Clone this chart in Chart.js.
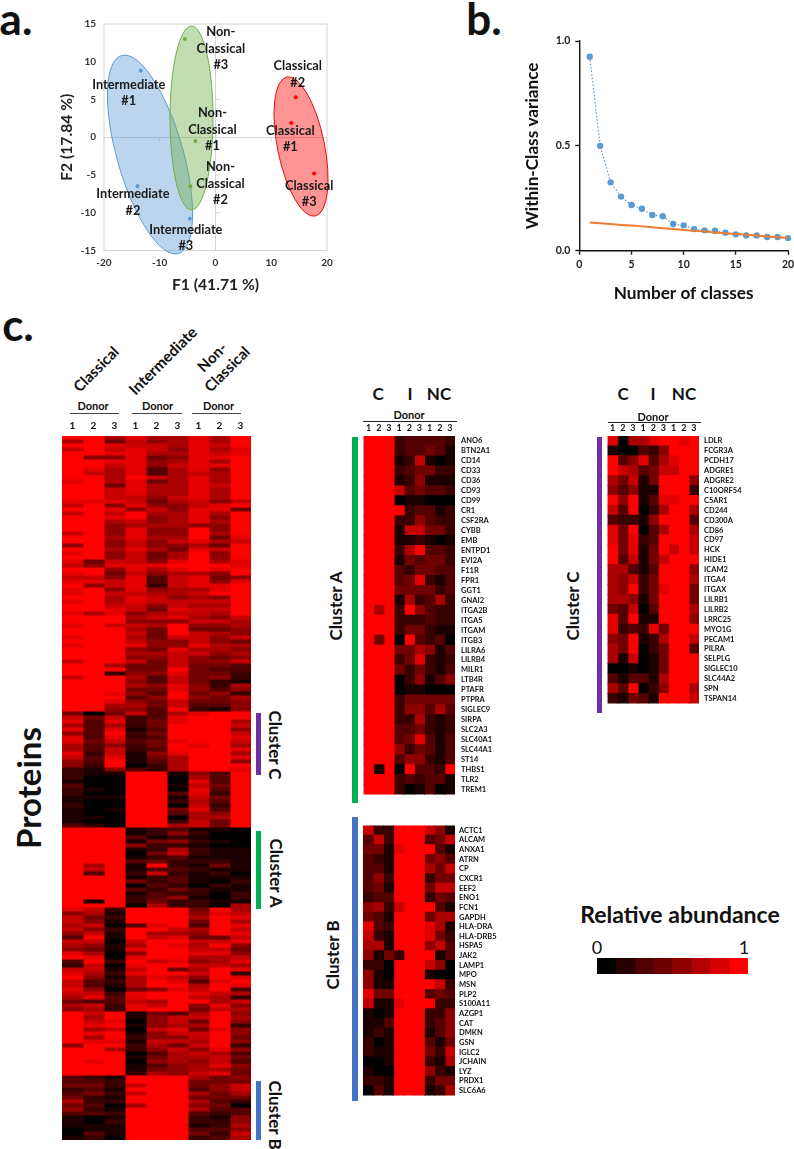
<!DOCTYPE html>
<html>
<head>
<meta charset="utf-8">
<title>Monocyte proteomics</title>
<script src="https://cdn.jsdelivr.net/npm/chart.js@4/dist/chart.umd.min.js"></script>
<style>
	html, body { margin: 0; padding: 0; background: #fff; }
	#page { position: relative; width: 794px; height: 1149px; overflow: hidden; font-family: Lato, sans-serif; color: #111; }
	canvas { position: absolute; }
	.txt { position: absolute; white-space: nowrap; font-weight: 700; line-height: 1; }
	.bar { position: absolute; }
</style>
</head>
<body>
<div id="page">
	<canvas id="pca" width="290" height="290" style="left:50px;top:10px"></canvas>
	<canvas id="elbow" width="300" height="300" style="left:520px;top:10px"></canvas>
	<canvas id="heatMain" width="189" height="722" style="left:62px;top:418px"></canvas>
	<canvas id="heatA" width="152" height="383" style="left:363px;top:422px"></canvas>
	<canvas id="heatB" width="152" height="287" style="left:363px;top:817px"></canvas>
	<canvas id="heatC" width="152" height="291" style="left:607px;top:422px"></canvas>
	<canvas id="scaleBar" width="151" height="16" style="left:597px;top:958px"></canvas>
</div>
<script>
// --- Panel a: PCA ---
const pcaIntermediateX = [-13.4, -14, -4.6];
const pcaIntermediateY = [8.8, -6.5, -10.8];
const pcaNonClassicalX = [-3.6, -4.5, -5.5];
const pcaNonClassicalY = [-0.5, -6.5, 13];
const pcaClassicalX = [13.6, 14.4, 17.7];
const pcaClassicalY = [1.9, 5.3, -4.8];
const pcaIntermediateLabels = [["Intermediate", "#1"], ["Intermediate", "#2"], ["Intermediate", "#3"]];
const pcaNonClassicalLabels = [["Non-", "Classical", "#1"], ["Non-", "Classical", "#2"], ["Non-", "Classical", "#3"]];
const pcaClassicalLabels = [["Classical", "#1"], ["Classical", "#2"], ["Classical", "#3"]];

// --- Panel b: within-class variance ---
const classCounts = [1, 2, 3, 4, 5, 6, 7, 8, 9, 10, 11, 12, 13, 14, 15, 16, 17, 18, 19, 20];
const withinVariance = [0.925, 0.5, 0.326, 0.258, 0.218, 0.2, 0.17, 0.164, 0.127, 0.121, 0.103, 0.097, 0.095, 0.086, 0.078, 0.073, 0.073, 0.065, 0.065, 0.06];
const randomVariance = [0.135, 0.131, 0.127, 0.123, 0.12, 0.116, 0.112, 0.107, 0.103, 0.099, 0.095, 0.091, 0.087, 0.083, 0.08, 0.076, 0.072, 0.068, 0.064, 0.06];

// --- Panel c: heatmaps, one digit per donor (0 = black, 9 = full red) ---
const donorLabels = ["1", "2", "3", "1", "2", "3", "1", "2", "3"];
const mainRowsTop = [
	"996866869", "694756869", "998776879", "797875868", "998866878", "955845889", "998856869", "997857889",
	"986836859", "976836769", "996976869", "896846869", "994866879", "997866869", "997866869", "997757869",
	"888746757", "795855789", "998575884", "797966869", "998956859", "996756869", "995666559", "995855959",
	"795855969", "996866948", "995757867", "595755649", "996864879", "895746959", "995746959", "847758968",
	"758889998", "995868989", "894756659", "775837845", "887837858", "957827889", "895856689", "897766799",
	"996875659", "896877779", "997757669", "998748779", "868567769", "999678657", "999555776", "897769556",
	"999649445", "999749765", "899647757", "999755754", "899855866", "999548665", "999667756", "999557545",
	"799747557", "996447443", "999449433", "992558442", "799637452", "999537421", "999658526", "999448535",
	"998539452", "999359546", "998547445", "996647335", "995539215",
];
const mainRowsClusterC = [
	"404736899", "747238999", "838248996", "636249997", "838139995", "539249997", "838239998", "847348997",
	"635249896", "637239998", "827158996", "738146998", "539136995", "529026999", "215326998",
];
const mainRowsIntermediate = [
	"211991539", "200990639", "100990839", "300991749", "210990839", "200993829", "111991749", "100992639",
	"200990729", "101994839", "100993659", "110990669", "100992749", "320996749",
];
const mainRowsClusterA = [
	"999123110", "999125200", "999312100", "999145210", "999522100", "999126211", "999047211", "999123111",
	"999342221", "969192141", "979133211", "939272120", "999123111", "999423102", "999032021", "999324211",
	"999132202", "999235102", "919242211", "999062206",
];
const mainRowsLowDonor3 = [
	"872999496", "561999587", "742999698", "751999496", "670389398", "752997697", "571966598", "391978447",
	"770799778", "651698695", "541899774", "860599885", "980899667", "392978568", "270899776", "771794698",
	"862899792", "951687598", "732698389", "731699698", "850458793", "772899876", "683899762", "433769967",
	"672879585", "562899476",
];
const mainRowsClassicalHigh = [
	"979143695", "969157796", "978057495", "989156692", "967078485", "989157795", "969255794", "988177695",
	"599264792", "996257585", "999036763", "999146674", "989056573", "999135685", "999145664", "999265784",
];
const mainRowsClusterB = [
	"321999645", "332999444", "442799457", "231999357", "342799646", "421999444", "622999632", "430699540",
	"521999633", "332999323", "101999215", "102999225", "111999126", "011999335", "031999427", "120999236",
];
const mainRows = [...mainRowsTop, ...mainRowsClusterC, ...mainRowsIntermediate, ...mainRowsClusterA, ...mainRowsLowDonor3, ...mainRowsClassicalHigh, ...mainRowsClusterB];

const clusterAGenes = ["ANO6", "BTN2A1", "CD14", "CD33", "CD36", "CD93", "CD99", "CR1", "CSF2RA", "CYBB", "EMB", "ENTPD1", "EVI2A", "F11R", "FPR1", "GGT1", "GNAI2", "ITGA2B", "ITGA5", "ITGAM", "ITGB3", "LILRA6", "LILRB4", "MILR1", "LTB4R", "PTAFR", "PTPRA", "SIGLEC9", "SIRPA", "SLC2A3", "SLC40A1", "SLC44A1", "ST14", "THBS1", "TLR2", "TREM1"];
const clusterARows = [
	"999233332", "999233431", "999127101", "999234422", "999125111", "999734332", "999011000", "999923312",
	"999225322", "999177442", "999112101", "999269332", "999143442", "999324433", "999348213", "999444423",
	"999162362", "969295322", "999222322", "999244211", "949093230", "999446513", "999248212", "999424213",
	"999025135", "999011000", "999244444", "999255363", "999226212", "999334212", "999348313", "999524313",
	"999355213", "919093329", "999232331", "999201301",
];
const clusterBGenes = ["ACTC1", "ALCAM", "ANXA1", "ATRN", "CP", "CXCR1", "EEF2", "ENO1", "FCN1", "GAPDH", "HLA-DRA", "HLA-DRB5", "HSPA5", "JAK2", "LAMP1", "MPO", "MSN", "PLP2", "S100A11", "AZGP1", "CAT", "DMKN", "GSN", "IGLC2", "JCHAIN", "LYZ", "PRDX1", "SLC6A6"];
const clusterBRows = [
	"722999751", "372999347", "441899931", "321999453", "331999647", "352999244", "341999477", "233999243",
	"562799931", "431999466", "832999861", "721999842", "661999573", "514299913", "220999750", "510999100",
	"511999972", "844999343", "711899922", "101999225", "113999235", "121999135", "201999314", "211999427",
	"001999216", "100999521", "221999244", "031999126",
];
const clusterCGenes = ["LDLR", "FCGR3A", "PCDH17", "ADGRE1", "ADGRE2", "C10ORF54", "C5AR1", "CD244", "CD300A", "CD86", "CD97", "HCK", "HIDE1", "ICAM2", "ITGA4", "ITGAX", "LILRB1", "LILRB2", "LRRC25", "MYO1G", "PECAM1", "PILRA", "SELPLG", "SIGLEC10", "SLC44A2", "SPN", "TSPAN14"];
const clusterCRows = [
	"806689989", "100325999", "935836899", "976347799", "647149995", "535119992", "959138899", "739026996",
	"322159993", "849036996", "848239997", "948149797", "937147999", "663139995", "657249996", "659248994",
	"665149994", "437039996", "839119995", "823284999", "549126997", "649024993", "617014999", "001014999",
	"313316999", "639025996", "214319997",
];
const scaleLevels = [0, 0.16, 0.31, 0.44, 0.56, 0.7, 0.85, 1];

// Common font for all chart text
const LABEL_FONT = "Lato, sans-serif";
Chart.defaults.font.family = LABEL_FONT;
Chart.defaults.animation = false;
Chart.defaults.plugins.legend.display = false;
Chart.defaults.plugins.tooltip.enabled = false;

function levelColor(level) {
	return `rgb(${Math.round(255 * level)}, 0, 0)`;
}

/**
 * Draws a heatmap as a stacked horizontal bar chart: one dataset per donor column.
 * Each bar has width 1 and takes its colour from the digit of the row.
 */
function drawHeatmap(canvasId, rows, genes, options) {
	const datasets = donorLabels.map((_, col) => ({
		data: rows.map(() => 1),
		backgroundColor: rows.map((row) => levelColor(Number(row[col]) / 9)),
		borderWidth: 0,
		inflateAmount: 0.5, // avoids light seams between cells
		barPercentage: 1,
		categoryPercentage: 1,
	}));

	return new Chart(document.getElementById(canvasId), {
		type: "bar",
		data: { labels: genes || rows.map(() => ""), datasets: datasets },
		options: {
			indexAxis: "y",
			responsive: false,
			layout: { padding: 0 },
			scales: {
				x: {
					stacked: true,
					min: 0,
					max: 9,
					position: "top",
					display: options.donorHeight > 0,
					grid: { display: false, drawTicks: false },
					border: { display: false },
					afterBuildTicks: (axis) => {
						axis.ticks = donorLabels.map((_, i) => ({ value: i + 0.5 }));
					},
					afterFit: (axis) => {
						axis.height = options.donorHeight;
					},
					ticks: {
						autoSkip: false,
						maxRotation: 0,
						padding: options.donorPadding,
						color: "#111",
						font: { size: options.donorSize, weight: "bold" },
						callback: (value, index) => donorLabels[index],
					},
				},
				y: {
					stacked: true,
					position: "right",
					display: Boolean(genes),
					grid: { display: false, drawTicks: false },
					border: { display: false },
					afterFit: (axis) => {
						axis.width = genes ? 60 : 0;
					},
					ticks: {
						autoSkip: false,
						padding: options.genePadding,
						color: "#111",
						font: { size: 7.5, weight: "bold" },
					},
				},
			},
		},
	});
}

// Ellipses around each monocyte group, in pixels relative to the plot area
const pcaEllipses = [
	{ cx: 46, cy: 130.5, major: 103, minor: 33, angle: -16, fill: "rgba(91,155,213,0.42)", stroke: "#5b9bd5" },
	{ cx: 87.5, cy: 94, major: 92, minor: 21.5, angle: 0, fill: "rgba(112,173,71,0.42)", stroke: "#70ad47" },
	{ cx: 197, cy: 122.5, major: 71, minor: 23.5, angle: -11.5, fill: "rgba(255,0,0,0.42)", stroke: "#e01010" },
];

const pcaFrameAndEllipses = {
	id: "pcaFrameAndEllipses",
	beforeDatasetsDraw(chart) {
		const { ctx, chartArea: area, scales } = chart;
		ctx.save();
		ctx.strokeStyle = "#d4d4d4";
		ctx.lineWidth = 1;
		ctx.strokeRect(area.left, area.top, area.width, area.height);

		// Small tick marks along the two zero lines
		const zeroX = scales.x.getPixelForValue(0);
		const zeroY = scales.y.getPixelForValue(0);
		ctx.beginPath();
		scales.y.ticks.forEach((tick) => {
			const y = scales.y.getPixelForValue(tick.value);
			ctx.moveTo(zeroX, y);
			ctx.lineTo(zeroX + 4, y);
		});
		scales.x.ticks.forEach((tick) => {
			const x = scales.x.getPixelForValue(tick.value);
			ctx.moveTo(x, zeroY);
			ctx.lineTo(x, zeroY + 4);
		});
		ctx.stroke();

		pcaEllipses.forEach((e) => {
			ctx.beginPath();
			ctx.ellipse(area.left + e.cx, area.top + e.cy, e.minor, e.major, (e.angle * Math.PI) / 180, 0, Math.PI * 2);
			ctx.fillStyle = e.fill;
			ctx.strokeStyle = e.stroke;
			ctx.fill();
			ctx.stroke();
		});
		ctx.restore();
	},
};

// Offset of the first text line from its point, one per point and per dataset
const pcaLabelOffsets = [
	[[-12, 14], [-4.5, 8], [-4, 11]],
	[[17, -28], [30, -19], [36, -7]],
	[[-1, 8], [2, -31], [-5, 12]],
];

const pcaPointLabels = {
	id: "pcaPointLabels",
	afterDatasetsDraw(chart) {
		const { ctx } = chart;
		ctx.save();
		ctx.font = `bold 12.8px ${LABEL_FONT}`;
		ctx.fillStyle = "#1a1a1a";
		ctx.textAlign = "center";
		ctx.textBaseline = "middle";
		chart.data.datasets.forEach((dataset, d) => {
			chart.getDatasetMeta(d).data.forEach((point, i) => {
				dataset.pointText[i].forEach((line, l) => {
					ctx.fillText(line, point.x + pcaLabelOffsets[d][i][0], point.y + pcaLabelOffsets[d][i][1] + l * 16.4);
				});
			});
		});
		ctx.restore();
	},
};

function toPoints(xs, ys) {
	return xs.map((x, i) => ({ x: x, y: ys[i] }));
}

new Chart(document.getElementById("pca"), {
	type: "scatter",
	data: {
		datasets: [
			{ data: toPoints(pcaIntermediateX, pcaIntermediateY), pointText: pcaIntermediateLabels, backgroundColor: "#5b9bd5", pointRadius: 2, borderWidth: 0 },
			{ data: toPoints(pcaNonClassicalX, pcaNonClassicalY), pointText: pcaNonClassicalLabels, backgroundColor: "#70ad47", pointRadius: 2, borderWidth: 0 },
			{ data: toPoints(pcaClassicalX, pcaClassicalY), pointText: pcaClassicalLabels, backgroundColor: "#ff0000", pointRadius: 2, borderWidth: 0 },
		],
	},
	options: {
		responsive: false,
		layout: { padding: { top: 10.5, right: 13 } },
		scales: {
			x: {
				min: -20,
				max: 20,
				afterFit: (axis) => { axis.height = 49.5; },
				ticks: { stepSize: 10, padding: 6, color: "#333", font: { size: 10, weight: "bold" }, maxRotation: 0 },
				grid: { drawTicks: false, color: (c) => (c.tick.value === 0 ? "#d4d4d4" : "transparent") },
				border: { display: false },
				title: { display: true, text: "F1 (41.71 %)", color: "#222", font: { size: 15.7, weight: "bold" }, padding: { top: 0, bottom: 6 } },
			},
			y: {
				min: -15,
				max: 15,
				afterFit: (axis) => { axis.width = 54; },
				ticks: { stepSize: 5, padding: 8, color: "#333", font: { size: 10, weight: "bold" } },
				grid: { drawTicks: false, color: (c) => (c.tick.value === 0 ? "#d4d4d4" : "transparent") },
				border: { display: false },
				title: { display: true, text: "F2 (17.84 %)", color: "#222", font: { size: 15.7, weight: "bold" }, padding: { top: 8, bottom: 0 } },
			},
		},
	},
	plugins: [pcaFrameAndEllipses, pcaPointLabels],
});

new Chart(document.getElementById("elbow"), {
	type: "scatter",
	data: {
		datasets: [
			{ data: toPoints(classCounts, randomVariance), showLine: true, borderColor: "#ed7d31", borderWidth: 2, pointRadius: 0, clip: false, order: 1 },
			{ data: toPoints(classCounts, withinVariance), showLine: true, borderColor: "#5b9bd5", borderWidth: 1.2, borderDash: [1.5, 2], backgroundColor: "#5b9bd5", pointBackgroundColor: "#5b9bd5", pointBorderWidth: 0, pointRadius: 3.2, clip: false, order: 2 },
		],
	},
	options: {
		responsive: false,
		layout: { padding: { top: 31, right: 32 } }, // canvas runs past the page edge so that x = 20 lands at 788
		scales: {
			x: {
				min: 0,
				max: 20,
				afterFit: (axis) => { axis.height = 59.3; },
				ticks: { stepSize: 5, padding: 4, color: "#222", font: { size: 10.5, weight: "bold" }, maxRotation: 0 },
				grid: { drawOnChartArea: false, tickLength: 4, tickColor: "#111", tickWidth: 1.4 },
				border: { color: "#111", width: 1.4 },
				title: { display: true, text: "Number of classes", color: "#111", font: { size: 17.2, weight: "bold" }, padding: { top: 0, bottom: 6 } },
			},
			y: {
				min: 0,
				max: 1,
				afterFit: (axis) => { axis.width = 59.3; },
				ticks: { stepSize: 0.5, padding: 5, color: "#222", font: { size: 10.5, weight: "bold" }, callback: (value) => value.toFixed(1) },
				grid: { drawOnChartArea: false, tickLength: 4, tickColor: "#111", tickWidth: 1.4 },
				border: { color: "#111", width: 1.4 },
				title: { display: true, text: "Within-Class variance", color: "#111", font: { size: 17.2, weight: "bold" }, padding: { top: 2, bottom: 0 } },
			},
		},
	},
});

drawHeatmap("heatMain", mainRows, null, { donorHeight: 18, donorPadding: 4, donorSize: 10, genePadding: 0 });
drawHeatmap("heatA", clusterARows, clusterAGenes, { donorHeight: 14, donorPadding: 3, donorSize: 9, genePadding: 6 });
drawHeatmap("heatB", clusterBRows, clusterBGenes, { donorHeight: 0, donorPadding: 0, donorSize: 9, genePadding: 4 });
drawHeatmap("heatC", clusterCRows, clusterCGenes, { donorHeight: 14, donorPadding: 3, donorSize: 9, genePadding: 5 });

// Colour scale under "Relative abundance"
new Chart(document.getElementById("scaleBar"), {
	type: "bar",
	data: {
		labels: ["scale"],
		datasets: scaleLevels.map((level) => ({
			data: [1],
			backgroundColor: levelColor(level),
			borderWidth: 0,
			barPercentage: 1,
			categoryPercentage: 1,
		})),
	},
	options: {
		indexAxis: "y",
		responsive: false,
		layout: { padding: 0 },
		scales: {
			x: { stacked: true, display: false, min: 0, max: scaleLevels.length },
			y: { stacked: true, display: false },
		},
	},
});

// Free text around the charts: [text, centre x, centre y, size, rotation, weight]
const page = document.getElementById("page");
const pageTexts = [
	["a.", 16, 18, 44, 0],
	["b.", 484, 18, 44, 0],
	["c.", 18, 324, 44, 0],
	["Classical", 96, 369, 15, -45],
	["Intermediate", 163, 361, 15.5, -45],
	["Non-", 212, 357, 15, -45],
	["Classical", 227, 369, 15, -45],
	["Donor", 93, 405, 11, 0],
	["Donor", 157.5, 405, 11, 0],
	["Donor", 218.5, 405, 11, 0],
	["Proteins", 28, 788, 33, -90],
	["Cluster C", 275, 745, 17, 90],
	["Cluster A", 276, 873, 17, 90],
	["Cluster B", 275, 1115, 17, 90],
	["C", 378, 393, 17, 0],
	["I", 410, 393, 17, 0],
	["NC", 439, 393, 17, 0],
	["Donor", 409, 414, 11, 0],
	["Cluster A", 335, 606, 17, -90],
	["Cluster B", 332, 955, 17, -90],
	["C", 623, 393, 17, 0],
	["I", 653, 393, 17, 0],
	["NC", 684, 393, 17, 0],
	["Donor", 653, 416, 11, 0],
	["Cluster C", 572, 606, 17, -90],
	["Relative abundance", 680, 914, 23, 0],
	["0", 597, 947, 18, 0, 400],
	["1", 744, 947, 18, 0, 400],
];
pageTexts.forEach(([text, x, y, size, rotation, weight]) => {
	const el = document.createElement("div");
	el.className = "txt";
	el.textContent = text;
	el.style.left = `${x}px`;
	el.style.top = `${y}px`;
	el.style.fontSize = `${size}px`;
	el.style.fontWeight = weight || 700;
	el.style.transform = `translate(-50%, -50%) rotate(${rotation}deg)`;
	page.appendChild(el);
});

// Rules and cluster bars: [left, top, width, height, colour]
const pageBars = [
	[70, 412.5, 49, 1.5, "#444"],
	[132, 412.5, 50, 1.5, "#444"],
	[192, 412.5, 49, 1.5, "#444"],
	[363, 420.5, 94, 1, "#222"],
	[608, 421.5, 93, 1, "#222"],
	[255.7, 713, 5, 62, "#7030a0"],
	[255.7, 830.7, 5, 78.6, "#00b050"],
	[255.7, 1080.7, 5, 59.3, "#4472c4"],
	[352.3, 437, 5.4, 365.7, "#00b050"],
	[352.3, 817, 5.4, 283.7, "#4472c4"],
	[596.7, 437, 5.3, 276, "#7030a0"],
];
pageBars.forEach(([left, top, width, height, color]) => {
	const el = document.createElement("div");
	el.className = "bar";
	el.style.cssText = `left:${left}px;top:${top}px;width:${width}px;height:${height}px;background:${color}`;
	page.appendChild(el);
});
</script>
</body>
</html>
